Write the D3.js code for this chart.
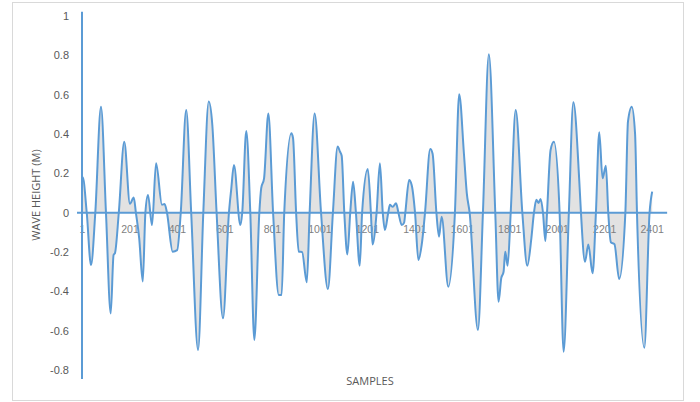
<!DOCTYPE html>
<html lang="en">
  <head>
    <meta charset="UTF-8" />
    <title>Wave height</title>
    <style>
      body {
        margin: 0;
        background: #fff;
        font-family: "Open Sans", "Noto Sans", sans-serif;
      }
      .frame {
        fill: none;
        stroke: #d9d9d9;
        stroke-width: 1px;
      }
      .wave-area {
        fill: #e2e2e2;
      }
      .wave-line {
        fill: none;
        stroke: #5b9bd5;
        stroke-width: 2px;
        stroke-linejoin: round;
      }
      .axis-line {
        stroke: #5b9bd5;
        stroke-width: 2px;
      }
      .y-axis text {
        fill: #595959;
        font-size: 11px;
      }
      .x-axis text {
        fill: #7f7f7f;
        font-size: 10.5px;
      }
      .axis-title {
        fill: #595959;
        font-size: 11px;
      }
    </style>
  </head>
  <body>
    <svg width="700" height="402"></svg>

    <script src="https://d3js.org/d3.v7.min.js"></script>
    <script>
      // peaks, troughs and zero crossings
      const sampleIdx = [
        1, 4, 21, 39, 57, 81, 102, 122, 134, 140, 156, 179, 203, 219, 228, 242,
        257, 268, 279, 296, 313, 338, 349, 359, 383, 402, 417, 440, 461, 490,
        512, 535, 550, 568, 595, 620, 630, 641, 668, 676, 693, 710, 727, 748,
        756, 768, 786, 806, 830, 842, 853, 883, 890, 903, 914, 928, 948, 960,
        981, 1008, 1037, 1058, 1078, 1088, 1095, 1106, 1119, 1131, 1143, 1155,
        1171, 1181, 1205, 1218, 1225, 1242, 1256, 1268, 1277, 1291, 1298, 1310,
        1324, 1334, 1348, 1358, 1363, 1379, 1390, 1404, 1418, 1432, 1446, 1468,
        1478, 1494, 1505, 1516, 1544, 1572, 1590, 1610, 1622, 1634, 1669, 1690,
        1715, 1742, 1756, 1767, 1777, 1784, 1794, 1807, 1828, 1856, 1877, 1894,
        1905, 1915, 1924, 1933, 1943, 1953, 1960, 1975, 1989, 2013, 2030, 2052,
        2071, 2096, 2103, 2120, 2134, 2152, 2166, 2180, 2194, 2208, 2218, 2229,
        2244, 2264, 2290, 2301, 2317, 2331, 2339, 2370, 2392, 2403,
      ];
      const waveHeight = [
        0.17, 0.18, 0, -0.266, 0, 0.539, 0, -0.512, -0.215, -0.205, 0, 0.361,
        0.045, 0.077, 0, -0.13, -0.35, 0, 0.09, -0.063, 0.251, 0.04, 0.044, 0,
        -0.198, -0.19, 0, 0.522, 0, -0.698, 0, 0.565, 0.446, 0, -0.537, 0,
        0.124, 0.243, -0.063, 0, 0.415, 0, -0.647, 0, 0.125, 0.175, 0.505, 0,
        -0.418, -0.418, 0, 0.404, 0.38, 0, -0.198, -0.2, -0.354, 0, 0.505, 0,
        -0.388, 0, 0.336, 0.31, 0.29, 0, -0.212, 0, 0.158, 0, -0.27, 0, 0.222,
        0, -0.161, 0, 0.251, 0, -0.088, 0, 0.04, 0.03, 0.048, 0, -0.063, -0.05,
        0, 0.166, 0.14, 0, -0.24, -0.164, 0, 0.324, 0.3, 0, -0.122, -0.02,
        -0.376, 0, 0.602, 0.3, 0.1, 0, -0.596, 0, 0.805, 0, -0.452, -0.334,
        -0.3, -0.198, -0.27, 0, 0.522, 0, -0.27, -0.13, 0, 0.066, 0.05, 0.07, 0,
        -0.144, 0, 0.319, 0.361, 0, -0.707, 0, 0.561, 0.16, 0, -0.249, -0.161,
        -0.308, 0, 0.409, 0.175, 0.239, 0, -0.15, -0.16, -0.337, 0, 0.463,
        0.539, 0.4, 0, -0.686, 0, 0.107,
      ];
      const yTicks = [-0.8, -0.6, -0.4, -0.2, 0, 0.2, 0.4, 0.6, 0.8, 1];
      const xTicks = [1, 201, 401, 601, 801, 1001, 1201, 1401, 1601, 1801, 2001, 2201, 2401];

      const data = sampleIdx.map((s, i) => ({ s: s, v: waveHeight[i] }));

      const svg = d3.select("svg");

      const x = d3.scaleLinear().domain([1, 2401]).range([82, 651.7]);
      const y = d3.scaleLinear().domain([-0.8, 1]).range([370.1, 16]);

      svg
        .append("rect")
        .attr("class", "frame")
        .attr("x", 12.5)
        .attr("y", 2.5)
        .attr("width", 671)
        .attr("height", 398);

      const area = d3
        .area()
        .x((d) => x(d.s))
        .y0(y(0))
        .y1((d) => y(d.v))
        .curve(d3.curveMonotoneX);

      const line = d3
        .line()
        .x((d) => x(d.s))
        .y((d) => y(d.v))
        .curve(d3.curveMonotoneX);

      svg.append("path").datum(data).attr("class", "wave-area").attr("d", area);

      // axis labels
      const yAxis = svg
        .append("g")
        .attr("class", "y-axis")
        .attr("transform", "translate(82,0)")
        .call(
          d3
            .axisLeft(y)
            .tickValues(yTicks)
            .tickSize(0)
            .tickPadding(13)
            .tickFormat((d) => String(+d.toFixed(1)))
        );
      yAxis.select(".domain").remove();

      const xAxis = svg
        .append("g")
        .attr("class", "x-axis")
        .attr("transform", `translate(0,${y(0)})`)
        .call(
          d3
            .axisBottom(x)
            .tickValues(xTicks)
            .tickSize(0)
            .tickPadding(13)
            .tickFormat((d) => String(d))
        );
      xAxis.select(".domain").remove();

      svg.append("path").datum(data).attr("class", "wave-line").attr("d", line);

      // axis lines, drawn in the series blue
      svg
        .append("line")
        .attr("class", "axis-line")
        .attr("x1", x(-20))
        .attr("x2", x(2466))
        .attr("y1", y(0))
        .attr("y2", y(0));

      svg
        .append("line")
        .attr("class", "axis-line")
        .attr("x1", x(1))
        .attr("x2", x(1))
        .attr("y1", y(1.022))
        .attr("y2", y(-0.845));

      svg
        .append("text")
        .attr("class", "axis-title")
        .attr("text-anchor", "middle")
        .attr("transform", "translate(40,195) rotate(-90)")
        .text("WAVE HEIGHT (M)");

      svg
        .append("text")
        .attr("class", "axis-title")
        .attr("text-anchor", "middle")
        .attr("x", 370)
        .attr("y", 385)
        .text("SAMPLES");
    </script>
  </body>
</html>
